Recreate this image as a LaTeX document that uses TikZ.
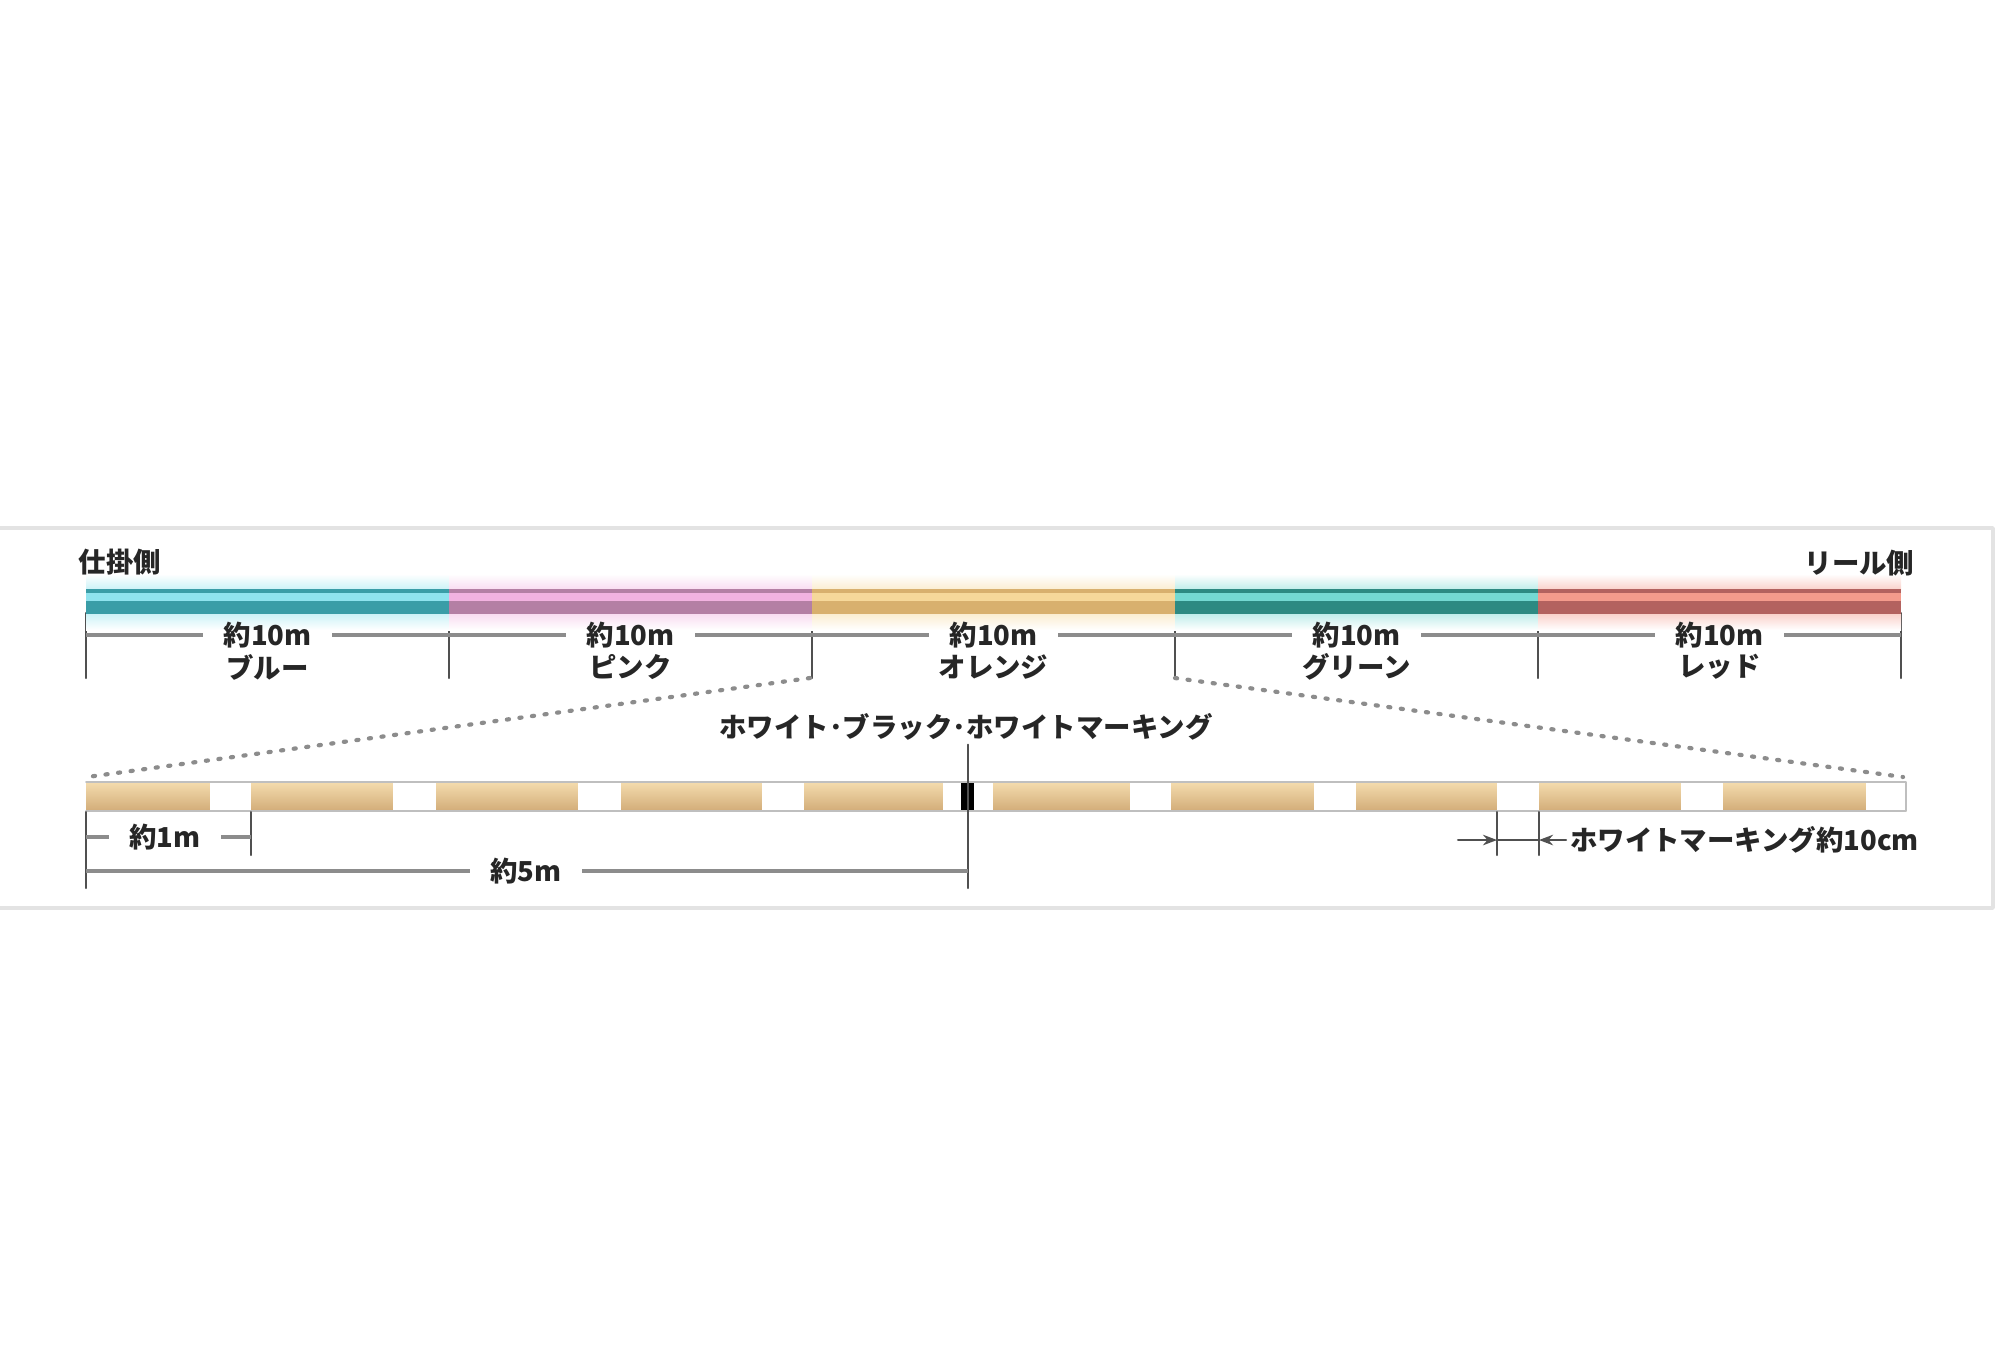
\documentclass[tikz,border=0pt]{standalone}
\usepackage{fontspec}
\newfontfamily\jp{Noto Sans CJK JP}
\usetikzlibrary{arrows.meta}
\definecolor{bluedk}{HTML}{3A9DA7}
\definecolor{bluelt}{HTML}{8FE3EE}
\definecolor{pinkdk}{HTML}{B47FA4}
\definecolor{pinklt}{HTML}{F2B2E0}
\definecolor{orgdk}{HTML}{D8B06E}
\definecolor{orglt}{HTML}{F6D89A}
\definecolor{grndk}{HTML}{2D8A82}
\definecolor{grnlt}{HTML}{74D9D2}
\definecolor{reddk}{HTML}{B3625F}
\definecolor{redlt}{HTML}{F49B8C}
\definecolor{tanlt}{HTML}{F4DCAE}
\definecolor{tanmd}{HTML}{EABF80}
\definecolor{tandk}{HTML}{D2AC78}
\definecolor{txt}{HTML}{262626}
\definecolor{dimgray}{HTML}{8C8C8C}
\definecolor{tickgray}{HTML}{505050}
\begin{document}
\begin{tikzpicture}[x=0.01cm, y=-0.01cm, >={Stealth[length=4pt,width=3pt]},
    font=\jp\bfseries\fontsize{7.8}{9}\selectfont, line join=round, line cap=round,
    lbl/.style={text=txt, inner ysep=1pt, inner xsep=0.2cm},
    dimln/.style={dimgray, line width=1.1pt, line cap=butt},
    tick/.style={tickgray, line width=0.6pt},
    dots/.style={gray!90, line width=1.2pt, dash pattern=on 0.6pt off 3pt}]
  \useasboundingbox (0,0) rectangle (2000,1365);
  \def\xo{86} \def\seg{363}
  \draw[gray!22, line width=1pt] (-20,528) rectangle (1993,908);

  % Linie oben, 5 Farben je 10m
  \foreach \i in {0,...,5}{
    \coordinate (b\i) at (\xo+\i*\seg,635);
    \draw[tick] (\xo+\i*\seg,613) -- (\xo+\i*\seg,678);
  }
  \foreach \i/\dk/\lt/\nm in {0/bluedk/bluelt/ブルー, 1/pinkdk/pinklt/ピンク, 2/orgdk/orglt/オレンジ, 3/grndk/grnlt/グリーン, 4/reddk/redlt/レッド}{
    \pgfmathsetmacro\xa{\xo+\i*\seg}
    \pgfmathsetmacro\xb{\xa+\seg}
    \pgfmathtruncatemacro\j{\i+1}
    \shade[top color=white, bottom color=\lt!45] (\xa,574) rectangle (\xb,589);
    \shade[top color=\lt!45, bottom color=white] (\xa,614) rectangle (\xb,630);
    \fill[\dk] (\xa,589) rectangle (\xb,614);
    \fill[\lt] (\xa,592.5) rectangle (\xb,601);
    \node[lbl] (len\i) at ({(\xa+\xb)/2},635) {約10m};
    \node[lbl] (col\i) at ({(\xa+\xb)/2},667) {\nm};
    \draw[dimln] (b\i) -- (len\i.west);
    \draw[dimln] (len\i.east) -- (b\j);
  }
  \node[text=txt, anchor=west, inner sep=0pt] (kake) at (78,562) {仕掛側};
  \node[text=txt, anchor=east, inner sep=0pt] (reel) at (1915,563) {リール側};

  % Ausschnitt
  \coordinate (zl) at (810,678);
  \coordinate (zr) at (1175,678);
  \coordinate (ul) at (87,777);
  \coordinate (ur) at (1903,777);
  \draw[dots] (zl) -- (ul);
  \draw[dots] (zr) -- (ur);

  % Linie unten mit Markierungen
  \shade[top color=tanlt, middle color=tanmd, bottom color=tandk] (86,782) rectangle (1906,811);
  \foreach \a/\b in {210/251, 393/436, 578/621, 762/804, 943/993, 1130/1171, 1314/1356, 1497/1539, 1681/1723, 1866/1906}
    \fill[white] (\a,783) rectangle (\b,810);
  \fill[black] (961,783) rectangle (974,810);
  \draw[gray!50, line width=0.5pt] (86,782) -- (1906,782) -- (1906,811) -- (86,811);

  \node[lbl] (bw) at (966,727) {ホワイト･ブラック･ホワイトマーキング};
  \draw[tick] (bw.south -| 968,0) -- (968,888);

  \draw[tick] (86,812) -- (86,888);
  \draw[tick] (251,812) -- (251,855);
  \coordinate (m0) at (86,837);
  \coordinate (m1) at (251,837);
  \node[lbl] (one) at (165,837) {約1m};
  \draw[dimln] (m0) -- (one.west);
  \draw[dimln] (one.east) -- (m1);
  \coordinate (f0) at (86,871);
  \coordinate (f1) at (968,871);
  \node[lbl] (five) at (526,871) {約5m};
  \draw[dimln] (f0) -- (five.west);
  \draw[dimln] (five.east) -- (f1);

  \draw[tick] (1497,812) -- (1497,855);
  \draw[tick] (1539,812) -- (1539,855);
  \coordinate (w0) at (1497,840);
  \coordinate (w1) at (1539,840);
  \coordinate (wa) at (1458,840);
  \node[lbl, anchor=west, inner xsep=1pt] (wm) at (1566,840) {ホワイトマーキング約10cm};
  \draw[->, tickgray, line width=0.6pt] (wa) -- (w0);
  \draw[tickgray, line width=0.6pt] (w0) -- (w1);
  \draw[->, tickgray, line width=0.6pt] (wm.west) -- (w1);
\end{tikzpicture}
\end{document}
